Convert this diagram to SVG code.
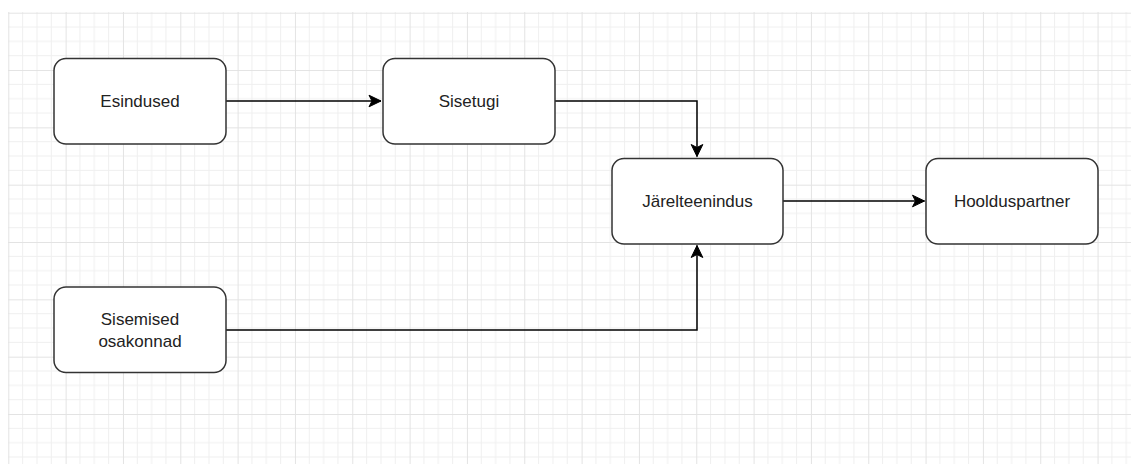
<svg xmlns="http://www.w3.org/2000/svg" width="1131" height="464" viewBox="0 0 1131 464">
  <defs>
    <pattern id="grid" patternUnits="userSpaceOnUse" x="8.3" y="12.7" width="57.33" height="57.33">
      <path d="M14.33 0V57.33M28.67 0V57.33M43 0V57.33M0 14.33H57.33M0 28.67H57.33M0 43H57.33" stroke="#efefef" stroke-width="1" fill="none"/>
      <path d="M0.5 0V57.33M0 0.5H57.33" stroke="#e3e3e3" stroke-width="1" fill="none"/>
    </pattern>
    <marker id="arrow" markerUnits="userSpaceOnUse" markerWidth="14" markerHeight="14" viewBox="-13 -7 14 14" refX="0" refY="0" orient="auto">
      <path d="M0 0L-12 -5.8L-9 0L-12 5.8Z" fill="#000" stroke="#000" stroke-width="1" stroke-linejoin="miter"/>
    </marker>
  </defs>
  <style>
    .box { fill: #fff; stroke: #333; stroke-width: 1.5; }
    .lbl { font-family: "Liberation Sans", Arial, sans-serif; font-size: 17px; fill: #222; text-anchor: middle; dominant-baseline: central; }
    .edge { fill: none; stroke: #000; stroke-width: 1.5; }
  </style>
  <rect x="0" y="0" width="1131" height="464" fill="#fff"/>
  <rect x="8" y="12" width="1123" height="452" fill="url(#grid)"/>

  <g id="connectors">
    <path class="edge" d="M226 101H381" marker-end="url(#arrow)"/>
    <path class="edge" d="M555 101H697V156.5" marker-end="url(#arrow)"/>
    <path class="edge" d="M783 201H924.5" marker-end="url(#arrow)"/>
    <path class="edge" d="M226 330H697V245.5" marker-end="url(#arrow)"/>
  </g>

  <g id="node-esindused">
    <rect class="box" x="54" y="58.5" width="172" height="85.5" rx="12"/>
    <text class="lbl" x="140" y="101">Esindused</text>
  </g>
  <g id="node-sisetugi">
    <rect class="box" x="383" y="58.5" width="172" height="85.5" rx="12"/>
    <text class="lbl" x="469" y="101">Sisetugi</text>
  </g>
  <g id="node-jarelteenindus">
    <rect class="box" x="612" y="158.5" width="171" height="85.5" rx="12"/>
    <text class="lbl" x="697.5" y="201">Järelteenindus</text>
  </g>
  <g id="node-hoolduspartner">
    <rect class="box" x="926" y="158.5" width="172" height="85.5" rx="12"/>
    <text class="lbl" x="1012" y="201">Hoolduspartner</text>
  </g>
  <g id="node-sisemised">
    <rect class="box" x="54" y="287" width="172" height="85.5" rx="12"/>
    <text class="lbl" x="140" y="319">Sisemised</text>
    <text class="lbl" x="140" y="341">osakonnad</text>
  </g>
</svg>
